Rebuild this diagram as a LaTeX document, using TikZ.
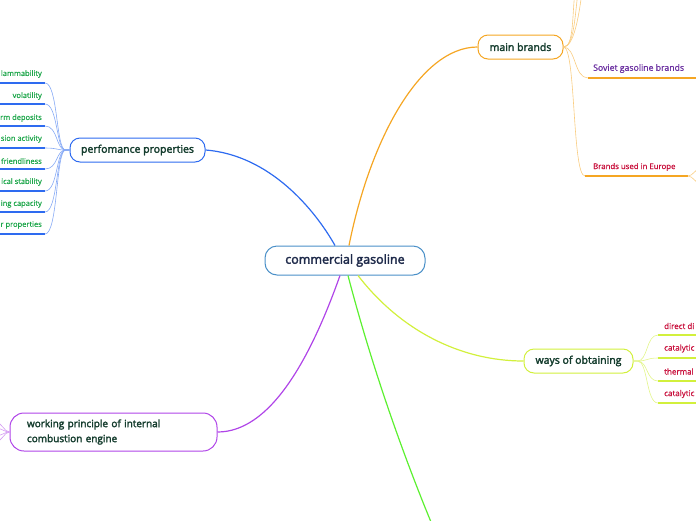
\documentclass[tikz,border=0pt]{standalone}
\usepackage{fontspec}
\setmainfont{Open Sans}[RawFeature={embolden=0.8}]
\newfontfamily\semib{Open Sans}[RawFeature={embolden=2.5}]
\usetikzlibrary{calc}
\definecolor{cblue}{HTML}{4A90C8}
\definecolor{navy}{HTML}{1E2A4A}
\definecolor{pblue}{HTML}{2E6BF0}
\definecolor{lblue}{HTML}{86A9F5}
\definecolor{dgreen}{HTML}{153D2E}
\definecolor{orng}{HTML}{F5A623}
\definecolor{lorng}{HTML}{F9CC80}
\definecolor{ygreen}{HTML}{D2F03C}
\definecolor{lygreen}{HTML}{E2F58A}
\definecolor{purp}{HTML}{B045E8}
\definecolor{lpurp}{HTML}{D49CF2}
\definecolor{bgreen}{HTML}{5CF030}
\definecolor{leafgreen}{HTML}{1DA64A}
\definecolor{sovpurp}{HTML}{6A2FA0}
\definecolor{leafred}{HTML}{C8103C}
\tikzset{
  topic/.style={draw, line width=1pt, rounded corners=10pt, fill=white, inner sep=0pt,
    font=\semib\fontsize{10.5}{13}\selectfont, text=dgreen},
  leafl/.style={anchor=east, inner sep=0pt, font=\fontsize{7.5}{9}\selectfont, text=leafgreen},
  leafr/.style={anchor=west, inner sep=0pt, font=\fontsize{8}{10}\selectfont, text=leafred},
  uline/.style={line width=1.3pt},
  conn/.style={line width=0.6pt},
}
\begin{document}
\begin{tikzpicture}[x=1pt,y=-1pt]
\useasboundingbox (0,0) rectangle (696,520);
% central node
\node[draw=cblue, line width=1pt, rounded corners=12pt, fill=white, minimum width=160pt, minimum height=29pt,
  inner sep=0pt, font=\semib\fontsize{12.5}{15}\selectfont, text=navy] (center) at (345,260.5) {commercial gasoline};
% topics
\node[topic, draw=pblue, minimum width=135pt, minimum height=24pt] (perf) at (137.5,150) {perfomance properties};
\node[topic, draw=orng, minimum width=85pt, minimum height=24pt] (mainb) at (520.5,47) {main brands};
\node[topic, draw=ygreen, minimum width=109pt, minimum height=24pt] (ways) at (578.5,361) {ways of obtaining};
\node[topic, draw=purp, minimum width=207pt, minimum height=38pt, rounded corners=14pt, inner xsep=17pt,
  text width=173pt, align=left, font=\semib\fontsize{10}{15}\selectfont] (work) at (113.5,432)
  {working principle of internal\\combustion engine};
% main connectors
\draw[pblue, line width=1.2pt] (perf.east) .. controls (270,155) and (315,210) .. ($(center.north)+(-10,0)$);
\draw[orng, line width=1.2pt] ($(center.north)+(4,0)$) .. controls (370,140) and (420,47) .. (mainb.west);
\draw[purp, line width=1.2pt] ($(center.south)+(-5,0)$) .. controls (310,360) and (270,432) .. (work.east);
\draw[ygreen, line width=1.2pt] ($(center.south)+(13,0)$) .. controls (400,330) and (460,361) .. (ways.west);
\coordinate (gend) at (431,522);
\draw[bgreen, line width=1.2pt] ($(center.south)+(3,0)$) .. controls (369,356) and (398,442) .. (gend);
% left leaves of perfomance properties
\foreach \t/\yt/\yl/\n in {lammability/74/83/1, volatility/96/104/2, rm deposits/118/126/3,
  sion activity/139/148/4, friendliness/161/169/5, ical stability/182/191/6,
  ing capacity/204/212/7, r properties/225/234/8}{
  \node[leafl] (pl\n) at (42,\yt) {\t};
  \coordinate (pe\n) at (45,\yl);
  \coordinate (ps\n) at (0,\yl);
  \draw[pblue, uline] (ps\n) -- (pe\n);
  \draw[lblue, conn] (perf.west) -- ++(-4,0) .. controls (56,150) and (58,\yl) .. (pe\n);
}
% main brands children
\foreach \x/\n in {575/1, 578/2, 582/3}{
  \coordinate (mt\n) at (\x,-8);
  \draw[lorng, conn] (mainb.east) .. controls (574,47) and (\x-3,15) .. (mt\n);
}
\node[anchor=west, inner sep=0pt, font=\fontsize{8.7}{10}\selectfont, text=sovpurp] (sov) at (593,68.5) {Soviet gasoline brands};
\coordinate (sovs) at (588,78);
\coordinate (sove) at (700,78);
\draw[orng, uline] (sovs) -- (sove);
\draw[lorng, conn] (mainb.east) .. controls (576,47) and (574,78) .. (sovs);
\node[anchor=west, inner sep=0pt, font=\fontsize{7.8}{10}\selectfont, text=leafred] (eur) at (593,167) {Brands used in Europe};
\coordinate (eurs) at (585,176);
\coordinate (eure) at (688,176);
\draw[orng, uline] (eurs) -- (eure);
\draw[lorng, conn] (mainb.east) .. controls (576,47) and (572,176) .. (eurs);
\coordinate (eo1) at (702,167);
\coordinate (eo2) at (702,185);
\draw[lorng, conn] (eure) .. controls (693,176) and (695,169) .. (eo1);
\draw[lorng, conn] (eure) .. controls (693,176) and (695,183) .. (eo2);
% ways children
\foreach \t/\yt/\yl/\n in {direct di/326/335/1, catalytic/348.5/358/2, thermal/371.5/381/3, catalytic/394/403/4}{
  \node[leafr] (wl\n) at (664,\yt) {\t};
  \coordinate (ws\n) at (658,\yl);
  \coordinate (we\n) at (700,\yl);
  \draw[ygreen, uline] (ws\n) -- (we\n);
  \draw[lygreen, conn] (ways.east) -- ++(4,0) .. controls (648,361) and (646,\yl) .. (ws\n);
}
% working principle left lines
\foreach \y/\n in {422/1, 428/2, 436/3, 442/4}{
  \coordinate (wo\n) at (-5,\y);
  \draw[lpurp, conn] (work.west) .. controls (4,432) and (2,\y) .. (wo\n);
}
\end{tikzpicture}
\end{document}
